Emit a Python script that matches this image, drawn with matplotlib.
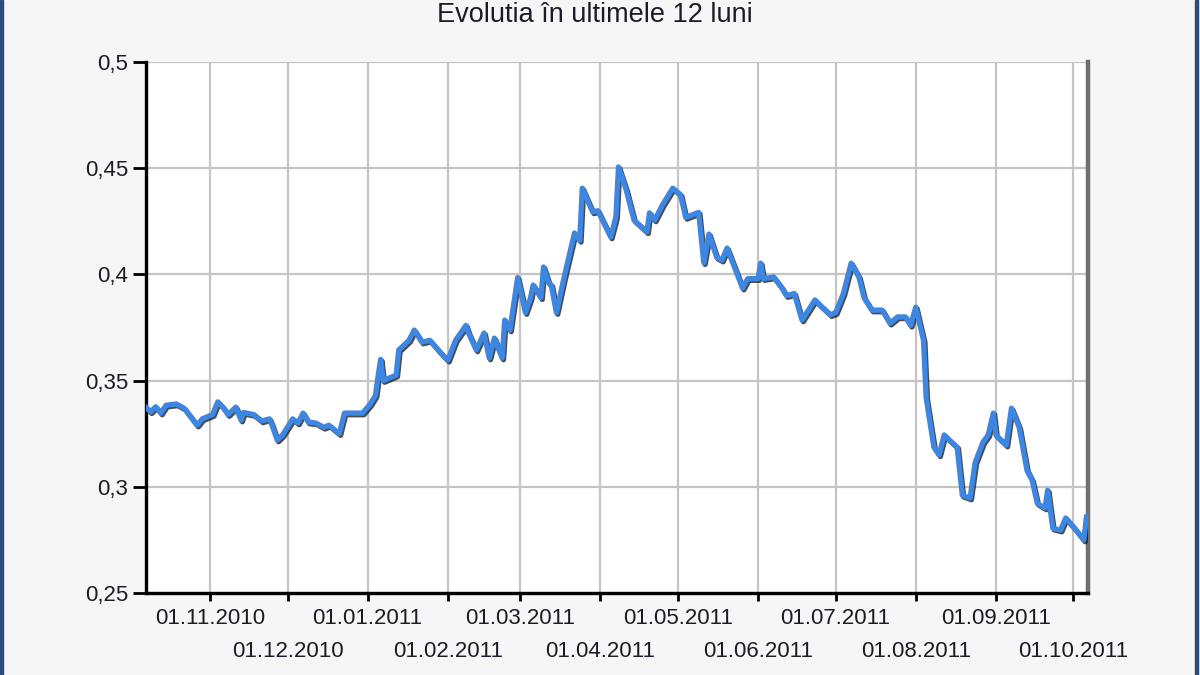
import matplotlib
matplotlib.use('Agg')
import matplotlib.pyplot as plt
import matplotlib.dates as mdates
import matplotlib.patheffects as pe
from matplotlib.patches import Rectangle
import pandas as pd

plt.rcParams['font.family'] = ['Liberation Sans', 'DejaVu Sans']

# ---- data ----
dates = [
    '2010-10-07', '2010-10-09', '2010-10-11', '2010-10-13', '2010-10-15', '2010-10-19',
    '2010-10-22', '2010-10-27', '2010-10-29', '2010-11-02', '2010-11-04', '2010-11-06',
    '2010-11-08', '2010-11-11', '2010-11-13', '2010-11-14', '2010-11-18', '2010-11-21',
    '2010-11-24', '2010-11-25', '2010-11-27', '2010-11-29', '2010-12-03', '2010-12-05',
    '2010-12-07', '2010-12-09', '2010-12-12', '2010-12-15', '2010-12-17', '2010-12-21',
    '2010-12-23', '2010-12-30', '2011-01-02', '2011-01-04', '2011-01-05', '2011-01-06',
    '2011-01-07', '2011-01-12', '2011-01-13', '2011-01-17', '2011-01-19', '2011-01-22',
    '2011-01-25', '2011-01-29', '2011-02-01', '2011-02-04', '2011-02-08', '2011-02-09',
    '2011-02-12', '2011-02-15', '2011-02-17', '2011-02-19', '2011-02-22', '2011-02-23',
    '2011-02-25', '2011-02-28', '2011-03-03', '2011-03-05', '2011-03-06', '2011-03-09',
    '2011-03-10', '2011-03-12', '2011-03-13', '2011-03-15', '2011-03-18', '2011-03-22',
    '2011-03-24', '2011-03-25', '2011-03-29', '2011-03-31', '2011-04-05', '2011-04-07',
    '2011-04-08', '2011-04-11', '2011-04-14', '2011-04-19', '2011-04-20', '2011-04-22',
    '2011-04-25', '2011-04-29', '2011-05-02', '2011-05-04', '2011-05-09', '2011-05-11',
    '2011-05-13', '2011-05-16', '2011-05-18', '2011-05-20', '2011-05-26', '2011-05-28',
    '2011-06-01', '2011-06-02', '2011-06-03', '2011-06-07', '2011-06-10', '2011-06-12',
    '2011-06-15', '2011-06-18', '2011-06-23', '2011-06-25', '2011-06-29', '2011-07-01',
    '2011-07-04', '2011-07-07', '2011-07-10', '2011-07-12', '2011-07-15', '2011-07-19',
    '2011-07-22', '2011-07-25', '2011-07-28', '2011-07-30', '2011-08-01', '2011-08-04',
    '2011-08-05', '2011-08-08', '2011-08-10', '2011-08-12', '2011-08-14', '2011-08-17',
    '2011-08-19', '2011-08-22', '2011-08-24', '2011-08-27', '2011-08-29', '2011-08-31',
    '2011-09-01', '2011-09-05', '2011-09-07', '2011-09-10', '2011-09-13', '2011-09-15',
    '2011-09-17', '2011-09-20', '2011-09-21', '2011-09-23', '2011-09-26', '2011-09-28',
    '2011-10-02', '2011-10-05', '2011-10-06',
]
values = [
    0.3377, 0.3353, 0.3377, 0.3347, 0.3384, 0.3390,
    0.3370, 0.3290, 0.3320, 0.3340, 0.3400, 0.3375,
    0.3340, 0.3375, 0.3314, 0.3350, 0.3340, 0.3310,
    0.3320, 0.3290, 0.3220, 0.3243, 0.3320, 0.3300,
    0.3347, 0.3305, 0.3300, 0.3280, 0.3290, 0.3250,
    0.3347, 0.3347, 0.3390, 0.3430, 0.3520, 0.3600,
    0.3500, 0.3526, 0.3644, 0.3690, 0.3738, 0.3681,
    0.3690, 0.3634, 0.3596, 0.3690, 0.3760, 0.3724,
    0.3644, 0.3724, 0.3606, 0.3700, 0.3606, 0.3785,
    0.3738, 0.3985, 0.3820, 0.3890, 0.3950, 0.3890,
    0.4035, 0.3960, 0.3950, 0.3820, 0.3988, 0.4195,
    0.4160, 0.4406, 0.4294, 0.4300, 0.4176, 0.4270,
    0.4506, 0.4397, 0.4256, 0.4200, 0.4290, 0.4256,
    0.4327, 0.4406, 0.4375, 0.4268, 0.4292, 0.4055,
    0.4190, 0.4080, 0.4067, 0.4124, 0.3935, 0.3980,
    0.3980, 0.4053, 0.3980, 0.3988, 0.3940, 0.3900,
    0.3910, 0.3785, 0.3880, 0.3855, 0.3810, 0.3820,
    0.3910, 0.4053, 0.3988, 0.3890, 0.3832, 0.3832,
    0.3770, 0.3800, 0.3800, 0.3760, 0.3846, 0.3690,
    0.3420, 0.3187, 0.3150, 0.3244, 0.3220, 0.3187,
    0.2960, 0.2947, 0.3116, 0.3210, 0.3244, 0.3347,
    0.3244, 0.3196, 0.3370, 0.3280, 0.3078, 0.3031,
    0.2922, 0.2900, 0.2984, 0.2805, 0.2796, 0.2853,
    0.2796, 0.2749, 0.2857,
]
y_ticks = [0.25, 0.30, 0.35, 0.40, 0.45, 0.50]
y_tick_labels = ['0,25', '0,3', '0,35', '0,4', '0,45', '0,5']
month_ticks = ['2010-11-01', '2010-12-01', '2011-01-01', '2011-02-01', '2011-03-01',
               '2011-04-01', '2011-05-01', '2011-06-01', '2011-07-01', '2011-08-01',
               '2011-09-01', '2011-10-01']
month_labels = ['01.11.2010', '01.12.2010', '01.01.2011', '01.02.2011', '01.03.2011',
                '01.04.2011', '01.05.2011', '01.06.2011', '01.07.2011', '01.08.2011',
                '01.09.2011', '01.10.2011']
title = 'Evolutia în ultimele 12 luni'

# ---- figure ----
W, H = 1200, 675
fig = plt.figure(figsize=(12, 6.75), dpi=100, facecolor='#f6f6f6')
ax = fig.add_axes([146 / W, 82 / H, 942 / W, 531 / H])
ax.set_facecolor('white')

x = pd.to_datetime(dates)
ax.plot(x, values, color='#3d87e3', lw=3.8, solid_joinstyle='round', zorder=3,
        path_effects=[pe.SimpleLineShadow(offset=(1.0, -1.2), shadow_color='#101010', alpha=0.75),
                      pe.Normal()])

ax.set_ylim(0.25, 0.5)
ax.set_xlim(pd.Timestamp('2010-10-07 06:00'), pd.Timestamp('2011-10-06 15:00'))

ax.set_yticks(y_ticks)
ax.set_yticklabels(y_tick_labels)

mt = pd.to_datetime(month_ticks)
ax.set_xticks(mt[0::2])
ax.set_xticklabels(month_labels[0::2])
ax.set_xticks(mt[1::2], minor=True)
ax.set_xticklabels(month_labels[1::2], minor=True)

txt_color = '#1c1c28'
ax.tick_params(axis='y', length=9.5, width=2, pad=3.5, labelsize=16, colors='black',
               labelcolor=txt_color)
ax.tick_params(axis='x', which='major', length=5.5, width=2, pad=5, labelsize=16,
               colors='black', labelcolor=txt_color)
ax.tick_params(axis='x', which='minor', length=5.5, width=2, pad=29, labelsize=16,
               colors='black', labelcolor=txt_color)

ax.set_axisbelow(True)
ax.grid(True, which='both', axis='x', color='#c4c4c4', lw=1.6)
ax.grid(True, which='major', axis='y', color='#c4c4c4', lw=1.6)

ax.spines['top'].set_visible(False)
ax.spines['right'].set_color('#6e6e6e')
ax.spines['right'].set_linewidth(3.2)
ax.spines['left'].set_color('black')
ax.spines['left'].set_linewidth(2.4)
ax.spines['bottom'].set_color('black')
ax.spines['bottom'].set_linewidth(2.4)

fig.text(595 / W, 1 - 22 / H, title, ha='center', va='baseline', fontsize=19.5,
         color=txt_color)

# window border
fig.patches.append(Rectangle((0, 0), 3 / W, 1, transform=fig.transFigure,
                             color='#2b4b7a', zorder=10))
fig.patches.append(Rectangle((1195 / W, 0), 3 / W, 1, transform=fig.transFigure,
                             color='#2b4b7a', zorder=10))

fig.savefig('out.png', dpi=100, facecolor=fig.get_facecolor())
